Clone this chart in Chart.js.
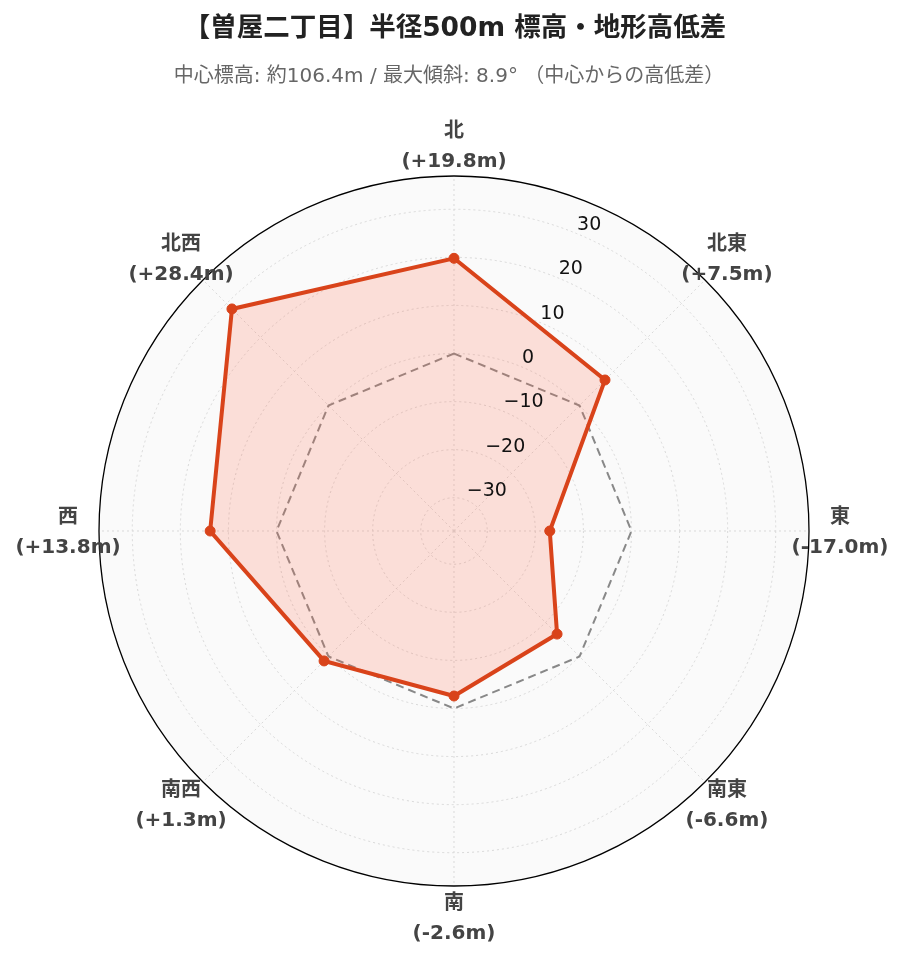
<!DOCTYPE html>
<html>
<head>
<meta charset="utf-8">
<script src="https://cdn.jsdelivr.net/npm/chart.js@4"></script>
<style>
  html, body { margin: 0; padding: 0; background: #fff; }
  #wrap { width: 903px; height: 962px; }
</style>
</head>
<body>
<div id="wrap"><canvas id="elevChart" width="903" height="962"></canvas></div>
<script>
// ─── DATA ──────────────────────────────────────────────────
const directions = ['北', '北東', '東', '南東', '南', '南西', '西', '北西'];
const elevDiff   = [19.8, 7.5, -17.0, -6.6, -2.6, 1.3, 13.8, 28.4];
const baseline   = [0, 0, 0, 0, 0, 0, 0, 0];
const tickValues = [-30, -20, -10, 0, 10, 20, 30];
const rMin = -36.92;
const rMax = 36.92;

const titleText    = '【曽屋二丁目】半径500m 標高・地形高低差';
const subtitleText = '中心標高: 約106.4m / 最大傾斜: 8.9° （中心からの高低差）';

const FONT = '"DejaVu Sans", "Noto Sans CJK JP", sans-serif';

function fmtDiff(v) {
  return '(' + (v >= 0 ? '+' : '-') + Math.abs(v).toFixed(1) + 'm)';
}
function fmtTick(v) {
  return v < 0 ? '\u2212' + Math.abs(v) : String(v);
}

// ─── CUSTOM TEXT (title, direction labels, radial ticks) ───
const textPlugin = {
  id: 'radarText',
  afterDraw(chart) {
    const ctx = chart.ctx;
    const r = chart.scales.r;
    ctx.save();

    // title + subtitle
    ctx.textAlign = 'center';
    ctx.textBaseline = 'middle';
    ctx.fillStyle = '#222';
    ctx.font = 'bold 26.5px ' + FONT;
    ctx.fillText(titleText, 455, 29);
    ctx.fillStyle = '#666';
    ctx.font = '20px ' + FONT;
    ctx.fillText(subtitleText, 449, 77);

    // direction labels
    ctx.fillStyle = '#444';
    ctx.font = 'bold 20px ' + FONT;
    directions.forEach((d, i) => {
      const p = r.getPointPosition(i, r.drawingArea + 31);
      ctx.fillText(d, p.x, p.y - 13);
      ctx.fillText(fmtDiff(elevDiff[i]), p.x, p.y + 17);
    });

    // radial tick labels along the 22.5° line
    ctx.textAlign = 'left';
    ctx.fillStyle = '#111';
    ctx.font = '19px ' + FONT;
    tickValues.forEach(v => {
      const p = r.getPointPosition(0.5, r.getDistanceFromCenterForValue(v));
      ctx.fillText(fmtTick(v), p.x, p.y - 9);
    });

    ctx.restore();
  }
};

const isOuter = c => c.tick && c.tick.value >= rMax - 0.01;

new Chart(document.getElementById('elevChart'), {
  type: 'radar',
  data: {
    labels: directions,
    datasets: [
      {
        label: '高低差',
        data: elevDiff,
        borderColor: '#d9431a',
        backgroundColor: 'rgba(255,110,80,0.2)',
        borderWidth: 4,
        fill: 'start',
        pointRadius: 5,
        pointBackgroundColor: '#d9431a',
        pointBorderColor: '#d9431a',
        pointBorderWidth: 1,
        tension: 0,
      },
      {
        label: '中心',
        data: baseline,
        borderColor: '#888',
        borderWidth: 2,
        borderDash: [8, 5],
        fill: false,
        pointRadius: 0,
      },
    ],
  },
  options: {
    responsive: false,
    animation: false,
    devicePixelRatio: 1,
    layout: { padding: { top: 176, left: 99, right: 94, bottom: 76 } },
    plugins: {
      legend: { display: false },
      tooltip: { enabled: false },
    },
    scales: {
      r: {
        min: rMin,
        max: rMax,
        backgroundColor: '#fafafa',
        ticks: { display: false, stepSize: 10 },
        pointLabels: { display: false },
        grid: {
          circular: true,
          color: c => isOuter(c) ? '#000' : '#d9d9d9',
          lineWidth: c => isOuter(c) ? 1.3 : 1,
        },
        border: { dash: c => isOuter(c) ? [] : [2, 3] },
        angleLines: { color: '#d9d9d9', lineWidth: 1, borderDash: [2, 3] },
      },
    },
  },
  plugins: [textPlugin],
});
</script>
</body>
</html>
